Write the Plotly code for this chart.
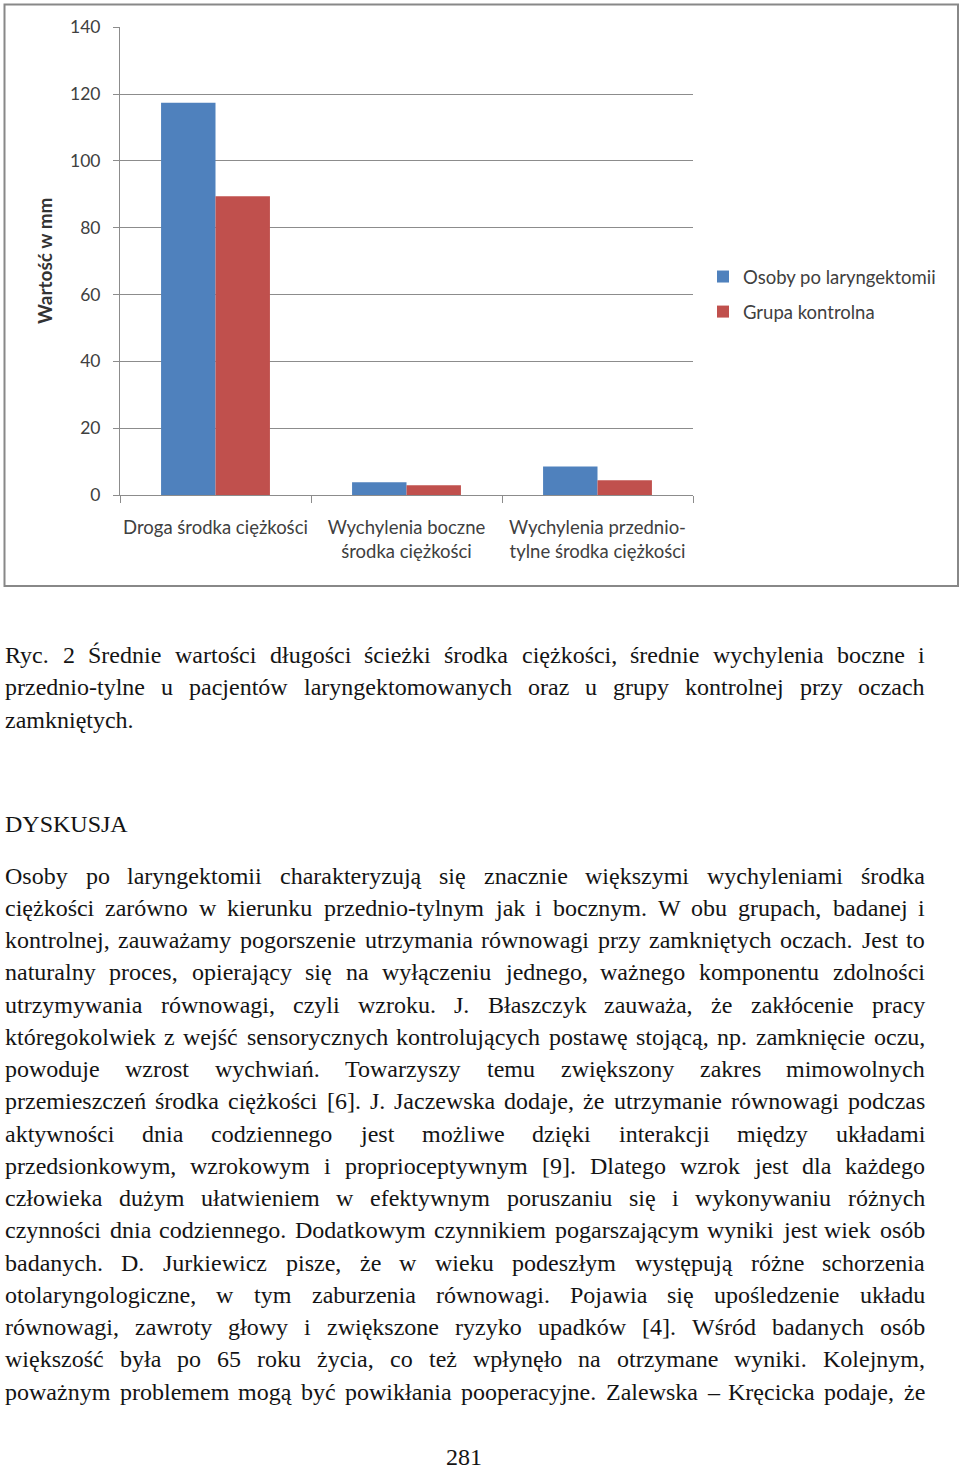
import plotly.graph_objects as go

W, H = 960, 1471

# ---------------- data ----------------
categories = ["Droga środka ciężkości",
              "Wychylenia boczne<br>środka ciężkości",
              "Wychylenia przednio-<br>tylne środka ciężkości"]
laryngectomy = [117.4, 3.8, 8.5]
control = [89.4, 2.9, 4.4]
series_names = ["Osoby po laryngektomii", "Grupa kontrolna"]
y_ticks = [0, 20, 40, 60, 80, 100, 120, 140]
y_title = "Wartość w mm"

caption_lines = [
    "Ryc. 2 Średnie wartości długości ścieżki środka ciężkości, średnie wychylenia boczne i",
    "przednio-tylne u pacjentów laryngektomowanych oraz u grupy kontrolnej przy oczach",
    "zamkniętych.",
]
heading = "DYSKUSJA"
paragraph_lines = [
    "Osoby po laryngektomii charakteryzują się znacznie większymi wychyleniami środka",
    "ciężkości zarówno w kierunku przednio-tylnym jak i bocznym. W obu grupach, badanej i",
    "kontrolnej, zauważamy pogorszenie utrzymania równowagi przy zamkniętych oczach. Jest to",
    "naturalny proces, opierający się na wyłączeniu jednego, ważnego komponentu zdolności",
    "utrzymywania równowagi, czyli wzroku. J. Błaszczyk zauważa, że zakłócenie pracy",
    "któregokolwiek z wejść sensorycznych kontrolujących postawę stojącą, np. zamknięcie oczu,",
    "powoduje wzrost wychwiań. Towarzyszy temu zwiększony zakres mimowolnych",
    "przemieszczeń środka ciężkości [6]. J. Jaczewska dodaje, że utrzymanie równowagi podczas",
    "aktywności dnia codziennego jest możliwe dzięki interakcji między układami",
    "przedsionkowym, wzrokowym i proprioceptywnym [9]. Dlatego wzrok jest dla każdego",
    "człowieka dużym ułatwieniem w efektywnym poruszaniu się i wykonywaniu różnych",
    "czynności dnia codziennego. Dodatkowym czynnikiem pogarszającym wyniki jest wiek osób",
    "badanych. D. Jurkiewicz pisze, że w wieku podeszłym występują różne schorzenia",
    "otolaryngologiczne, w tym zaburzenia równowagi. Pojawia się upośledzenie układu",
    "równowagi, zawroty głowy i zwiększone ryzyko upadków [4]. Wśród badanych osób",
    "większość była po 65 roku życia, co też wpłynęło na otrzymane wyniki. Kolejnym,",
    "poważnym problemem mogą być powikłania pooperacyjne. Zalewska – Kręcicka podaje, że",
]
page_number = "281"

# ---------------- helpers ----------------
def px(x):
    return x / W

def py(y):
    return 1 - y / H

TIMES = {' ': 250, '!': 333, ',': 250, '-': 333, '.': 250, ':': 278, ';': 278,
         '[': 333, ']': 333, '(': 333, ')': 333, '–': 500,
         'A': 722, 'B': 667, 'C': 667, 'D': 722, 'E': 611, 'F': 556, 'G': 722, 'H': 722,
         'I': 333, 'J': 389, 'K': 722, 'L': 611, 'M': 889, 'N': 722, 'O': 722, 'P': 556,
         'Q': 722, 'R': 667, 'S': 556, 'T': 611, 'U': 722, 'V': 722, 'W': 944, 'X': 722,
         'Y': 722, 'Z': 611,
         'a': 444, 'b': 500, 'c': 444, 'd': 500, 'e': 444, 'f': 333, 'g': 500, 'h': 500,
         'i': 278, 'j': 278, 'k': 500, 'l': 278, 'm': 778, 'n': 500, 'o': 500, 'p': 500,
         'q': 500, 'r': 333, 's': 389, 't': 278, 'u': 500, 'v': 500, 'w': 722, 'x': 500,
         'y': 500, 'z': 444,
         'ą': 444, 'ć': 444, 'ę': 444, 'ł': 278, 'ń': 500, 'ó': 500, 'ś': 389, 'ź': 444,
         'ż': 444, 'Ś': 556, 'Ł': 611, 'Ż': 611}

def tw(s, fs):
    return sum(TIMES.get(ch, 500) for ch in s) * fs / 1000.0

X0, X1 = 4, 924
LINE_W = X1 - X0

justified = caption_lines[:2] + paragraph_lines
fs_fit = min(LINE_W * 1000.0 / sum(TIMES.get(c, 500) for c in ln) for ln in justified)
FS = min(24, fs_fit)
SERIF = "Liberation Serif"
TXT_COLOR = "#141414"

annotations = []

def add_line(text, ycenter, justify):
    words = text.split(' ')
    if not justify or len(words) == 1:
        annotations.append(dict(x=px(X0), y=py(ycenter), xref='paper', yref='paper',
                                xanchor='left', yanchor='middle', text=text, showarrow=False,
                                borderpad=0,
                                font=dict(family=SERIF, size=FS, color=TXT_COLOR)))
        return
    widths = [tw(w_, FS) for w_ in words]
    gap = (LINE_W - sum(widths)) / (len(words) - 1)
    x = X0
    for w_, wd in zip(words, widths):
        annotations.append(dict(x=px(x), y=py(ycenter), xref='paper', yref='paper',
                                xanchor='left', yanchor='middle', text=w_, showarrow=False,
                                borderpad=0,
                                font=dict(family=SERIF, size=FS, color=TXT_COLOR)))
        x += wd + gap

LS = 32.25
for i, ln in enumerate(caption_lines):
    add_line(ln, 655 + i * LS, i < 2)
add_line(heading, 824, False)
for i, ln in enumerate(paragraph_lines):
    add_line(ln, 875.5 + i * LS, True)

annotations.append(dict(x=px(464), y=py(1471), xref='paper', yref='paper',
                        xanchor='center', yanchor='bottom', text=page_number, showarrow=False,
                        borderpad=0,
                        font=dict(family=SERIF, size=FS, color=TXT_COLOR)))

# y-axis title
SANS = "Lato"
LABEL_COLOR = "#404040"
annotations.append(dict(x=px(44), y=py(261), xref='paper', yref='paper',
                        xanchor='center', yanchor='middle', text="<b>" + y_title + "</b>",
                        textangle=-90, showarrow=False,
                        font=dict(family=SANS, size=19, color="#333333")))

# ---------------- figure ----------------
fig = go.Figure()
fig.add_trace(go.Bar(x=categories, y=laryngectomy, name=series_names[0],
                     marker=dict(color="#4F81BD", line=dict(width=0)),
                     legendgroup="a"))
fig.add_trace(go.Bar(x=categories, y=control, name=series_names[1],
                     marker=dict(color="#C0504D", line=dict(width=0)),
                     legendgroup="b"))

GRID = "#8c8c8c"
fig.update_layout(
    width=W, height=H,
    margin=dict(l=0, r=0, t=0, b=0, autoexpand=False),
    paper_bgcolor="white", plot_bgcolor="white",
    barmode="group", bargap=0.43, bargroupgap=0,
    showlegend=True,
    legend=dict(x=px(703), y=py(258), xanchor='left', yanchor='top',
                font=dict(family=SANS, size=18.5, color=LABEL_COLOR),
                traceorder="grouped", tracegroupgap=8,
                bgcolor="rgba(0,0,0,0)"),
    xaxis=dict(domain=[px(120), px(693)], anchor='y',
               showline=True, linecolor=GRID, linewidth=1,
               ticks="outside", tickson="boundaries", ticklen=7, tickcolor=GRID,
               ticklabelstandoff=16, tickangle=0,
               tickfont=dict(family=SANS, size=18.5, color=LABEL_COLOR),
               showgrid=False, fixedrange=True),
    yaxis=dict(domain=[py(495), py(27.3)], anchor='x',
               range=[0, 140], tickvals=y_ticks,
               showline=True, linecolor=GRID, linewidth=1,
               ticks="outside", ticklen=6, tickcolor=GRID,
               ticklabelstandoff=9,
               tickfont=dict(family=SANS, size=17.5, color=LABEL_COLOR),
               showgrid=True, gridcolor=GRID, gridwidth=1,
               zeroline=False, fixedrange=True),
    annotations=annotations,
    shapes=[dict(type='rect', xref='paper', yref='paper',
                 x0=px(4.5), x1=px(958), y0=py(4.5), y1=py(586),
                 line=dict(color="#888888", width=2), fillcolor="rgba(0,0,0,0)")],
)

fig.write_html("out.html")
